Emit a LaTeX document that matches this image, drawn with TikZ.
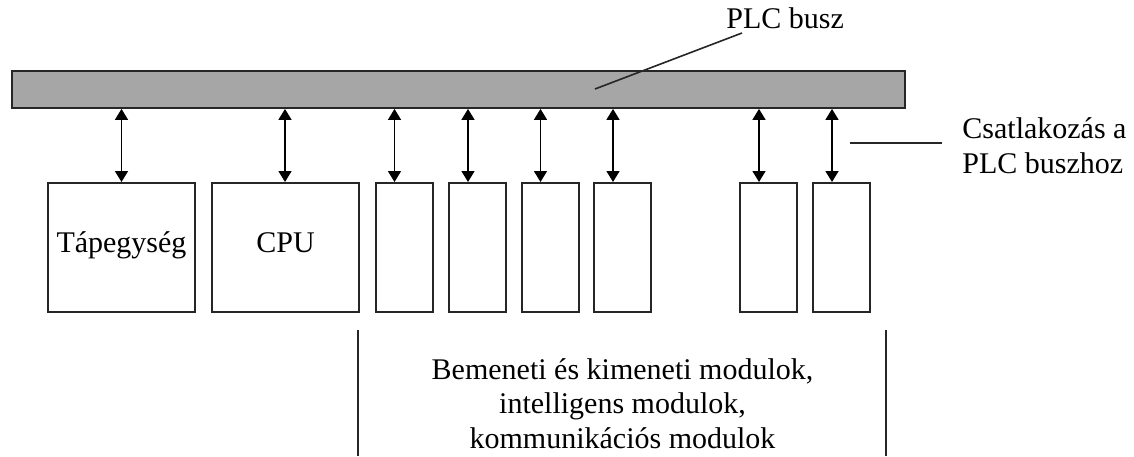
\documentclass[tikz,border=0pt]{standalone}
\usepackage{fontspec}
\setmainfont{Liberation Serif}
\usetikzlibrary{arrows.meta}
\begin{document}
\begin{tikzpicture}[x=0.5pt,y=-0.5pt,
  lbl/.style={font=\fontsize{15pt}{17.25pt}\selectfont, inner sep=0pt},
  busbar/.style={draw=black!85, fill=black!35, line width=0.9pt, inner sep=0pt,
    minimum width=446.5pt, minimum height=18.5pt},
  bigbox/.style={draw=black!85, line width=1pt, inner sep=0pt,
    minimum width=73.5pt, minimum height=64.5pt},
  modbox/.style={draw=black!85, line width=1pt, inner sep=0pt,
    minimum width=28.5pt, minimum height=64.5pt},
  con/.style={{Triangle[width=6.5pt,length=5.5pt]}-{Triangle[width=6.5pt,length=5.5pt]}, line width=0.75pt},
  lead/.style={draw=black!85, line width=0.8pt}]
\useasboundingbox (0,0) rectangle (1134,456);
% bus
\node[busbar] (bus) at (458.5,89.5) {};
% boxes
\node[bigbox] (tap) at (121.5,247.5) {};
\node[bigbox] (cpu) at (285.5,247.5) {};
\node[lbl, anchor=base] (taptxt) at ([yshift=-2.25pt]tap.center) {Tápegység};
\node[lbl, anchor=base] (cputxt) at ([yshift=-2.25pt]cpu.center) {CPU};
\foreach \n/\a in {m1/404, m2/477.5, m3/550, m4/622.5, m5/768.5, m6/841.5} {
  \node[modbox] (\n) at (\a,247.5) {};
}
% connection arrows
\coordinate (a0) at (tap.north);
\coordinate (a00) at ([xshift=-0.25pt]cpu.north);
\draw[con] (a0 |- bus.south) -- (a0);
\draw[con] (a00 |- bus.south) -- (a00);
\foreach \n in {m1, m2, m3, m4, m5, m6} {
  \coordinate (a\n) at ([xshift=-4.75pt]\n.north);
  \draw[con] (a\n |- bus.south) -- (a\n);
}
% PLC busz label
\node[lbl, anchor=base west] (plc) at (726,28) {PLC busz};
\coordinate (pA) at (595,89);
\coordinate (pB) at (742,33);
\draw[lead] (pA) -- (pB);
% Csatlakozas label
\node[lbl, anchor=base west] (cs1) at (962,138) {Csatlakozás a};
\node[lbl, anchor=base west] (cs2) at (962,173) {PLC buszhoz};
\coordinate (cA) at (850,143);
\coordinate (cB) at (942,143);
\draw[lead] (cA) -- (cB);
% bracket lines
\coordinate (lT) at (358,330); \coordinate (lB) at (358,456);
\coordinate (rT) at (886,330); \coordinate (rB) at (886,456);
\draw[lead] (lT) -- (lB);
\draw[lead] (rT) -- (rB);
\node[lbl, anchor=base] (b1) at (622.5,379) {Bemeneti és kimeneti modulok,};
\node[lbl, anchor=base] (b2) at (622.5,413.5) {intelligens modulok,};
\node[lbl, anchor=base] (b3) at (622.5,448) {kommunikációs modulok};
\end{tikzpicture}
\end{document}
